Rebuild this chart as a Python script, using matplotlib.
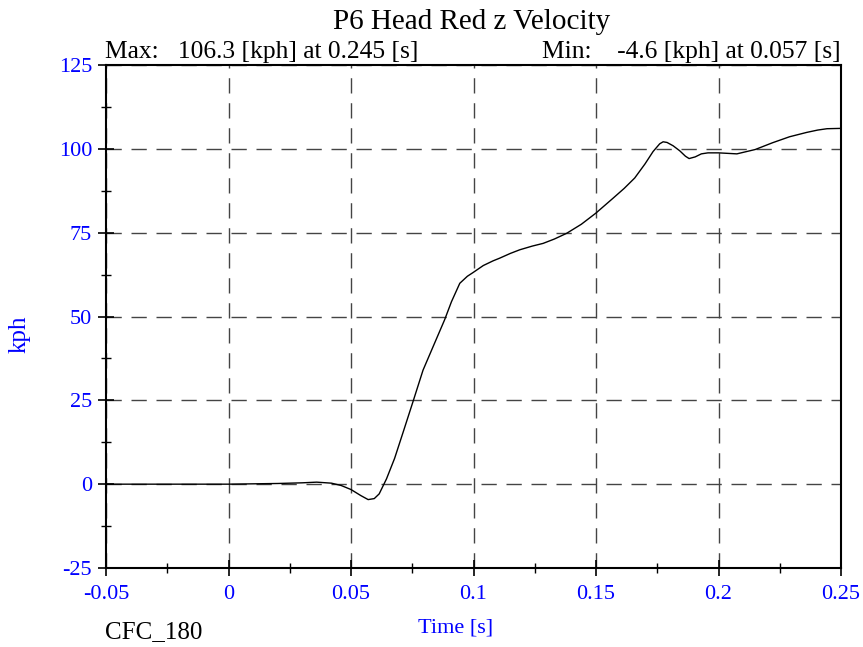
import matplotlib
matplotlib.use("Agg")
import matplotlib.pyplot as plt
import numpy as np
from matplotlib.ticker import MultipleLocator

plt.rcParams['font.family'] = ['Liberation Serif', 'DejaVu Serif']
plt.rcParams['axes.unicode_minus'] = False

# time [s] and velocity [kph]
t = [-0.05, -0.03, -0.01, 0.0, 0.01, 0.02, 0.03, 0.036, 0.042, 0.046, 0.05,
     0.054, 0.057, 0.0595, 0.0615, 0.0645, 0.0678, 0.0715, 0.0753, 0.0794, 0.0835,
     0.0882, 0.091, 0.0944, 0.0975, 0.0998, 0.104, 0.108, 0.1107, 0.115,
     0.1189, 0.124, 0.1284, 0.133, 0.138, 0.144, 0.1499, 0.157, 0.1615,
     0.1658, 0.1700, 0.1733, 0.1760, 0.1774, 0.1790, 0.1815, 0.1842, 0.1865,
     0.188, 0.1905, 0.193, 0.1957, 0.2, 0.2075, 0.215, 0.222, 0.229, 0.236,
     0.2405, 0.2443, 0.25]
v = [0.0, 0.0, 0.0, 0.0, 0.1, 0.2, 0.4, 0.6, 0.3, -0.4, -1.6,
     -3.4, -4.6, -4.3, -2.9, 1.6, 7.7, 16.0, 24.6, 34.0, 41.0,
     49.0, 54.4, 59.9, 62.0, 63.1, 65.2, 66.6, 67.4, 68.8,
     69.9, 71.0, 71.8, 73.1, 74.8, 77.5, 80.8, 85.3, 88.2,
     91.3, 95.5, 99.2, 101.5, 102.1, 101.9, 100.9, 99.4, 97.8,
     97.1, 97.6, 98.5, 98.8, 98.8, 98.5, 99.8, 101.8, 103.6, 104.9,
     105.6, 106.0, 106.1]

fig = plt.figure(figsize=(8.63, 6.47), dpi=100)
ax = fig.add_axes([106 / 863, 1 - 568 / 647, 735 / 863, 503 / 647])

ax.plot(t, v, color='black', lw=1.0)

ax.set_xlim(-0.05, 0.25)
ax.set_ylim(-25, 125)
ax.set_xticks(np.arange(-0.05, 0.2501, 0.05))
ax.set_xticklabels(['-0.05', '0', '0.05', '0.1', '0.15', '0.2', '0.25'])
ax.set_yticks(np.arange(-25, 126, 25))
ax.xaxis.set_minor_locator(MultipleLocator(0.025))
ax.yaxis.set_minor_locator(MultipleLocator(12.5))

ax.grid(True, which='major', color='#444444', linestyle=(0, (11, 7)), lw=1.0)
ax.tick_params(which='major', direction='inout', length=12, width=1.2,
               colors='black', labelcolor='blue', labelsize=16)
ax.tick_params(axis='x', which='major', pad=6)
ax.tick_params(axis='y', which='major', pad=4)
ax.tick_params(which='minor', direction='inout', length=7, width=1.0)
ax.tick_params(top=False, right=False)
for s in ax.spines.values():
    s.set_linewidth(1.5)

fig.text(456 / 863, 1 - 632 / 647, 'Time [s]', ha='center', va='baseline',
         color='blue', fontsize=16)
fig.text(20 / 863, 1 - 334 / 647, 'kph', ha='center', va='center',
         color='blue', fontsize=18, rotation=90)

fig.text(472 / 863, 1 - 29 / 647, 'P6 Head Red z Velocity', ha='center', va='baseline', fontsize=21)
fig.text(105 / 863, 1 - 58 / 647, 'Max:   106.3 [kph] at 0.245 [s]', ha='left', va='baseline', fontsize=18.4)
fig.text(841 / 863, 1 - 58 / 647, 'Min:    -4.6 [kph] at 0.057 [s]', ha='right', va='baseline', fontsize=18.4)
fig.text(105 / 863, 1 - 638 / 647, 'CFC_180', ha='left', va='baseline', fontsize=18)

fig.savefig('out.png', dpi=100)
